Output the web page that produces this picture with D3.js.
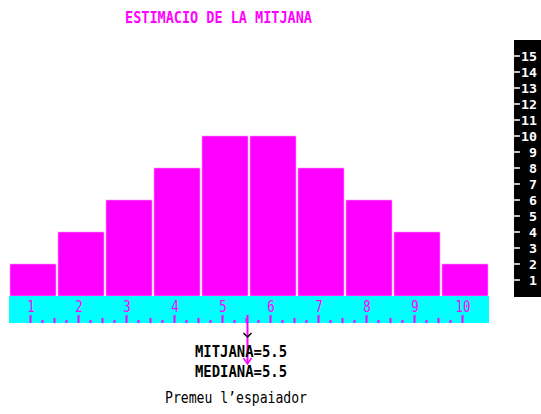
<!DOCTYPE html>
<html><head><meta charset="utf-8">
<script src="https://cdn.jsdelivr.net/npm/d3@7"></script>
<style>html,body{margin:0;padding:0;background:#fff;overflow:hidden}</style>
</head><body>
<script>
const categories = [1,2,3,4,5,6,7,8,9,10];
const frequencies = [2,4,6,8,10,10,8,6,4,2];
const yTicks = [1,2,3,4,5,6,7,8,9,10,11,12,13,14,15];
const title = "ESTIMACIO DE LA MITJANA";
const meanValue = 5.5;
const medianValue = 5.5;
const footerLines = ["MITJANA=5.5", "MEDIANA=5.5", "Premeu l’espaiador"];

const W = 541, H = 414;
const MAG = "#ff00ff", CYAN = "#00ffff";
const svg = d3.select("body").append("svg").attr("width", W).attr("height", H);
const mono = "'DejaVu Sans Mono', 'Liberation Mono', monospace";

const x = d3.scaleLinear().domain([0.5, 10.5]).range([9, 489]);
const y = d3.scaleLinear().domain([0, 15]).range([296, 56]);

// title
svg.append("text").attr("x", 125).attr("y", 23)
  .attr("font-family", mono).attr("font-size", 15).attr("font-weight", "bold")
  .attr("fill", MAG).attr("textLength", 187).attr("lengthAdjust", "spacingAndGlyphs")
  .text(title);

// bars
svg.selectAll("rect.bar").data(categories).join("rect").attr("class", "bar")
  .attr("x", d => x(d - 0.5) + 1)
  .attr("width", d => x(d + 0.5) - x(d - 0.5) - 2)
  .attr("y", (d, i) => y(frequencies[i]))
  .attr("height", (d, i) => y(0) - y(frequencies[i]))
  .attr("fill", MAG).attr("stroke", "#ff99ff").attr("stroke-width", 0.6);

// cyan ruler band
svg.append("rect").attr("x", x(0.5)).attr("y", 296)
  .attr("width", x(10.5) - x(0.5)).attr("height", 27).attr("fill", CYAN);

// ruler labels
svg.selectAll("text.xl").data(categories).join("text").attr("class", "xl")
  .attr("x", d => x(d) - 2 - 3.75 * String(d).length).attr("y", 312)
  .attr("font-family", mono).attr("font-size", 15).attr("fill", MAG)
  .attr("textLength", d => 7.5 * String(d).length).attr("lengthAdjust", "spacingAndGlyphs")
  .text(d => d);

// ruler ticks
const rulerTicks = d3.range(categories[0], categories[categories.length - 1] + 0.01, 0.25);
svg.selectAll("line.rt").data(rulerTicks).join("line").attr("class", "rt")
  .attr("x1", d => Math.round(x(d)) - 2.5).attr("x2", d => Math.round(x(d)) - 2.5)
  .attr("y1", d => Number.isInteger(d) ? 315 : (d % 1 === 0.5 ? 318 : 320))
  .attr("y2", 323)
  .attr("stroke", MAG).attr("stroke-width", 2);

// right axis panel
svg.append("rect").attr("x", 514).attr("y", 40).attr("width", 27).attr("height", 257).attr("fill", "#000");
const yAxis = svg.append("g");
yAxis.selectAll("line").data(yTicks).join("line")
  .attr("x1", 514).attr("x2", 520).attr("y1", d => y(d)).attr("y2", d => y(d))
  .attr("stroke", "#fff").attr("stroke-width", 1.5);
yAxis.selectAll("text").data(yTicks).join("text")
  .attr("x", d => 537 - 8 * String(d).length).attr("y", d => y(d) + 5)
  .attr("font-family", mono).attr("font-size", 13).attr("font-weight", "bold").attr("fill", "#fff")
  .attr("textLength", d => 8 * String(d).length).attr("lengthAdjust", "spacingAndGlyphs")
  .text(d => d);

// mean marker
const mx = x(meanValue) - 1.5;
svg.append("line").attr("x1", mx).attr("x2", mx).attr("y1", 315).attr("y2", 364)
  .attr("stroke", MAG).attr("stroke-width", 2);
svg.append("path").attr("d", `M${mx - 4},${358} L${mx},${364} L${mx + 4},${358}`)
  .attr("fill", "none").attr("stroke", MAG).attr("stroke-width", 1.5);
const medx = x(medianValue) - 1.5;
svg.append("path").attr("d", `M${medx - 4},${333} L${medx},${337} L${medx + 4},${333}`)
  .attr("fill", "none").attr("stroke", "#000").attr("stroke-width", 1.5);

// footer text
svg.append("text").attr("x", 195).attr("y", 357).attr("font-family", mono).attr("font-size", 16)
  .attr("font-weight", "bold").attr("fill", "#000")
  .attr("textLength", 92).attr("lengthAdjust", "spacingAndGlyphs").text(footerLines[0]);
svg.append("text").attr("x", 195).attr("y", 377).attr("font-family", mono).attr("font-size", 16)
  .attr("font-weight", "bold").attr("fill", "#000")
  .attr("textLength", 92).attr("lengthAdjust", "spacingAndGlyphs").text(footerLines[1]);
svg.append("text").attr("x", 165).attr("y", 403).attr("font-family", mono).attr("font-size", 16)
  .attr("fill", "#000")
  .attr("textLength", 142).attr("lengthAdjust", "spacingAndGlyphs").text(footerLines[2]);
</script>
</body></html>
